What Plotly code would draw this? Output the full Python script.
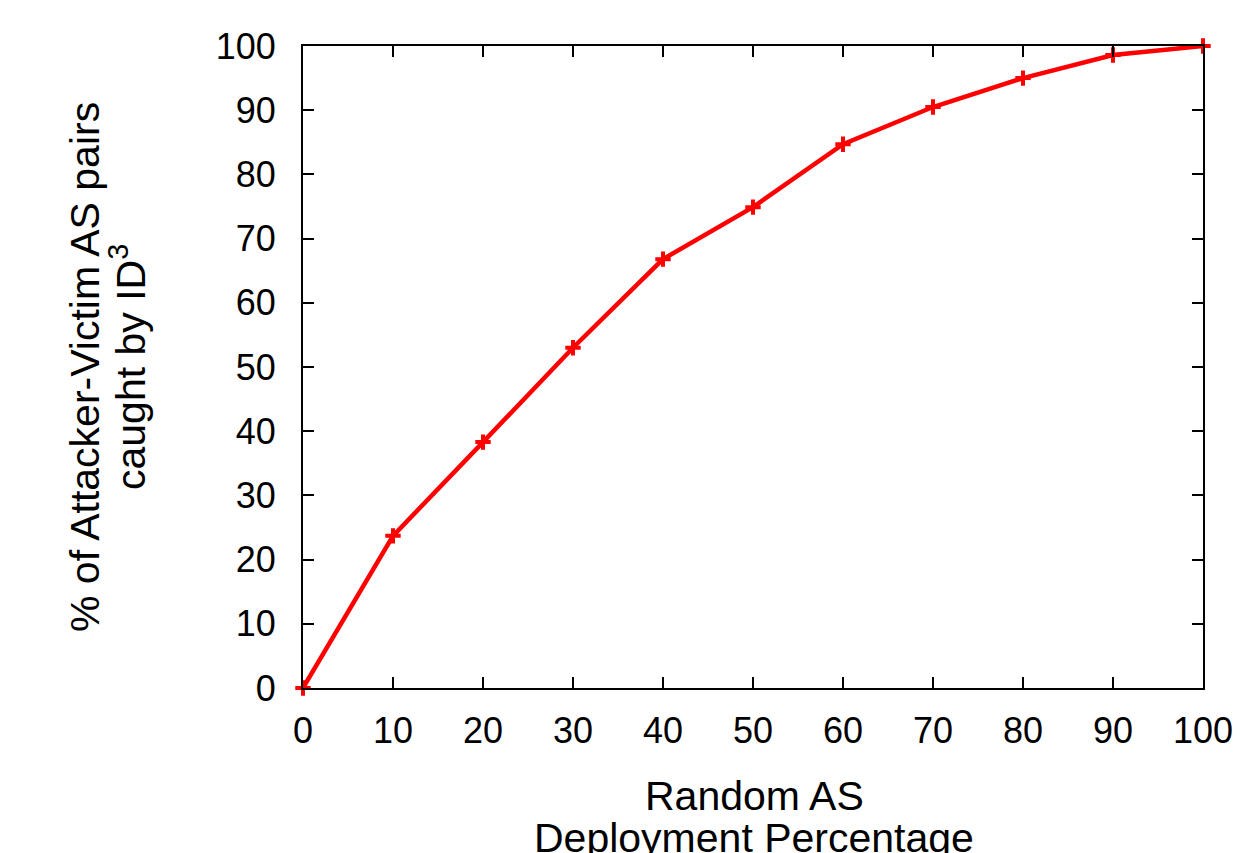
import plotly.graph_objects as go

deployment_pct = [0, 10, 20, 30, 40, 50, 60, 70, 80, 90, 100]
caught_pct = [0, 23.7, 38.3, 53.0, 66.8, 74.9, 84.7, 90.5, 95.0, 98.6, 100]
tick_vals = [0, 10, 20, 30, 40, 50, 60, 70, 80, 90, 100]

FONT = "Liberation Sans, Arial, sans-serif"

W, H = 1245, 853
OFF = 8  # page body margin
L, R, T, B = 303 - OFF, 42 + OFF, 46 - OFF, 165 + OFF
pw, ph = W - L - R, H - T - B

def px_x(x):
    return (x - OFF - L) / pw

def px_y(y):
    return (H - B - (y - OFF)) / ph

fig = go.Figure()
fig.add_trace(go.Scatter(
    x=deployment_pct, y=caught_pct, mode="lines+markers",
    line=dict(color="#ff0000", width=4.5),
    marker=dict(symbol="cross-thin", size=11, line=dict(color="#ff0000", width=4), color="#ff0000"),
    cliponaxis=False, showlegend=False,
))

axis_common = dict(
    showgrid=False, zeroline=False, showline=True, linecolor="black", linewidth=2,
    mirror="allticks", ticks="inside", ticklen=11, tickwidth=2, tickcolor="black",
    tickfont=dict(family=FONT, size=36, color="black"),
    tickvals=tick_vals, range=[0, 100],
)
fig.update_xaxes(**axis_common, ticklabelstandoff=10)
fig.update_yaxes(**axis_common, ticklabelstandoff=18)

title_font = dict(family=FONT, size=41, color="black")
fig.add_annotation(text="Random AS", x=px_x(754), y=px_y(796), xref="paper", yref="paper",
                   xanchor="center", yanchor="middle", showarrow=False, font=title_font)
fig.add_annotation(text="Deployment Percentage", x=px_x(754), y=px_y(838), xref="paper", yref="paper",
                   xanchor="center", yanchor="middle", showarrow=False, font=title_font)
fig.add_annotation(text="% of Attacker-Victim AS pairs", x=px_x(85), y=px_y(367),
                   xref="paper", yref="paper", xanchor="center", yanchor="middle",
                   showarrow=False, font=title_font, textangle=-90)
fig.add_annotation(text="caught by ID<sup>3</sup>", x=px_x(128), y=px_y(367),
                   xref="paper", yref="paper", xanchor="center", yanchor="middle",
                   showarrow=False, font=title_font, textangle=-90)

fig.update_layout(
    width=W, height=H, margin=dict(l=L, r=R, t=T, b=B, autoexpand=False),
    plot_bgcolor="white", paper_bgcolor="white",
    font=dict(family=FONT),
)
fig.write_html("out.html")
